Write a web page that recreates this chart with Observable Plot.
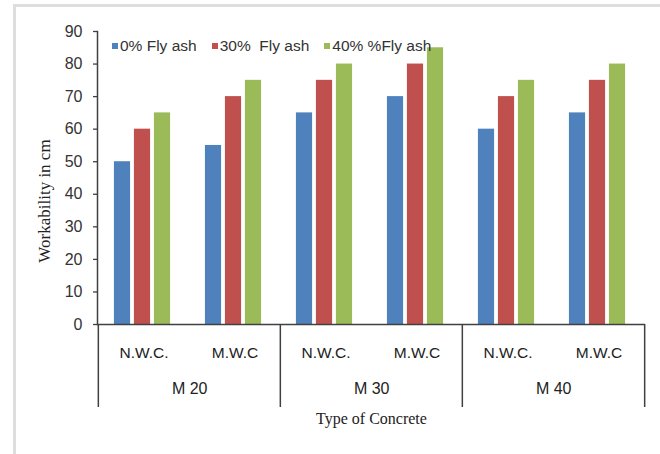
<!DOCTYPE html>
<html>
<head>
<meta charset="utf-8">
<script src="https://cdn.jsdelivr.net/npm/d3@7"></script>
<script src="https://cdn.jsdelivr.net/npm/@observablehq/plot@0.6"></script>
<style>
  html, body { margin: 0; padding: 0; background: #fff; }
  #wrap { position: relative; width: 660px; height: 454px; overflow: hidden; }
  #border { position: absolute; left: 13px; top: 4px; width: 660px; height: 460px;
            border-left: 3px solid #dedede; border-top: 3px solid #dedede; box-sizing: border-box; }
  #legend { position: absolute; left: 112px; top: 37px; display: flex; white-space: pre;
            font-family: "Liberation Sans Narrow", "Liberation Sans", sans-serif; font-size: 15.5px; color: #333; }
  #legend .item { display: flex; align-items: center; margin-right: 15px; }
  #legend .sw { width: 6px; height: 6px; margin-right: 2px; }
</style>
</head>
<body>
<div id="wrap"><div id="border"></div><div id="chart"></div><div id="legend"></div></div>
<script>
const groups = ["M 20", "M 30", "M 40"];
const subTypes = ["N.W.C.", "M.W.C"];
const series = ["0% Fly ash", "30%  Fly ash", "40% %Fly ash"];
const colors = ["#4F81BD", "#C0504D", "#9BBB59"];
const fly0 = [50, 55, 65, 70, 60, 65];
const fly30 = [60, 70, 75, 80, 70, 75];
const fly40 = [65, 75, 80, 85, 75, 80];
const yTicks = [0, 10, 20, 30, 40, 50, 60, 70, 80, 90];
const yTitle = "Workability in cm";
const xTitle = "Type of Concrete";

const seriesValues = [fly0, fly30, fly40];
const cats = [];
groups.forEach(g => subTypes.forEach(s => cats.push({key: g + "|" + s, group: g, sub: s})));
const data = [];
series.forEach((s, j) => cats.forEach((c, i) => data.push({key: c.key, series: s, value: seriesValues[j][i]})));

const W = 660, H = 454, mL = 97, mR = 15, mT = 31, mB = 130;
const bw = (W - mL - mR) / cats.length;
const barW = 16.5, step = 20;
const axisColor = "#404040";
const sans = "'Liberation Sans Narrow', 'Liberation Sans', sans-serif";
const serif = "'Liberation Serif', serif";

const groupStarts = cats.filter(c => c.sub === subTypes[0]);
const lastCat = cats.slice(-1);

const chart = Plot.plot({
  width: W, height: H,
  marginLeft: mL, marginRight: mR, marginTop: mT, marginBottom: mB,
  style: {fontFamily: sans, fontSize: "16px", color: "#333", background: "transparent"},
  x: {domain: cats.map(c => c.key), padding: 0},
  y: {domain: [0, 90]},
  marks: [
    ...series.map((s, j) => Plot.barY(data.filter(d => d.series === s), {
      x: "key", y: "value", fill: colors[j], dx: (j - 1) * step - 1.5,
      insetLeft: (bw - barW) / 2, insetRight: (bw - barW) / 2
    })),
    Plot.axisY({ticks: yTicks, tickSize: 4, tickPadding: 11, stroke: axisColor, strokeWidth: 1.3, label: null, fontSize: 16, fill: "#333"}),
    Plot.frame({anchor: "left", stroke: axisColor, strokeWidth: 1.5}),
    Plot.ruleY([0], {stroke: axisColor, strokeWidth: 1.5}),
    Plot.axisX({tickSize: 0, tickPadding: 22, tickFormat: k => k.split("|")[1], label: null, fontSize: 15.5, fill: "#222"}),
    Plot.ruleX(groupStarts, {x: "key", y1: 0, y2: -25.5, dx: -bw / 2, stroke: axisColor, strokeWidth: 1.5}),
    Plot.ruleX(lastCat, {x: "key", y1: 0, y2: -25.5, dx: bw / 2, stroke: axisColor, strokeWidth: 1.5}),
    Plot.text(groupStarts, {x: "key", text: "group", frameAnchor: "bottom", dx: bw / 2, dy: 69, fontSize: 16, fill: "#222"}),
    Plot.text([xTitle], {text: d => d, frameAnchor: "bottom", dy: 99, fontFamily: serif, fontSize: 16, fill: "#222"}),
    Plot.text([yTitle], {text: d => d, frameAnchor: "left", textAnchor: "middle", rotate: -90, dx: -53, dy: 23, fontFamily: serif, fontSize: 17, fill: "#222"})
  ]
});
document.getElementById("chart").appendChild(chart);

const legend = document.getElementById("legend");
series.forEach((s, j) => {
  const item = document.createElement("div");
  item.className = "item";
  const sw = document.createElement("span");
  sw.className = "sw";
  sw.style.background = colors[j];
  const lab = document.createElement("span");
  lab.textContent = s;
  item.appendChild(sw); item.appendChild(lab);
  legend.appendChild(item);
});
</script>
</body>
</html>
